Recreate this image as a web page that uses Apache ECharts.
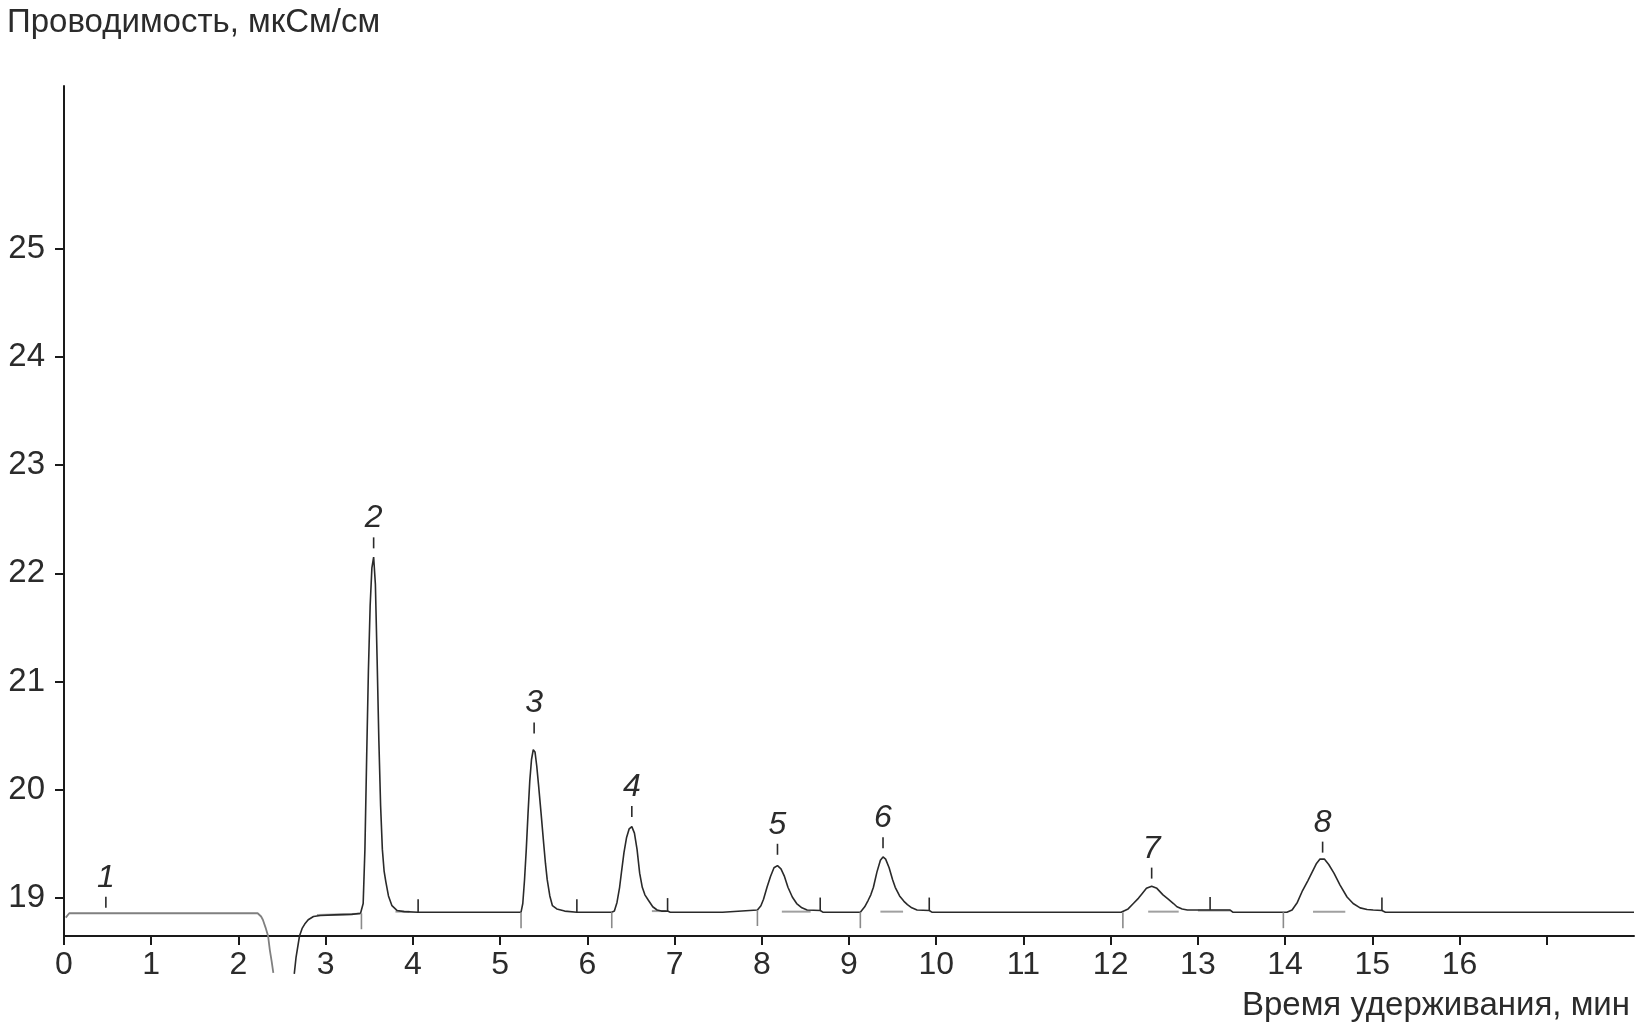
<!DOCTYPE html>
<html>
<head>
<meta charset="utf-8">
<title>Хроматограмма</title>
<script src="https://cdn.jsdelivr.net/npm/echarts@6/dist/echarts.min.js"></script>
<style>
  html, body { margin: 0; padding: 0; background: #fff; }
  #chart { width: 1642px; height: 1028px; }
</style>
</head>
<body>
<div id="chart"></div>
<script>
// ticks
const xTicks = [0, 1, 2, 3, 4, 5, 6, 7, 8, 9, 10, 11, 12, 13, 14, 15, 16, 17];
const xTickLabels = [0, 1, 2, 3, 4, 5, 6, 7, 8, 9, 10, 11, 12, 13, 14, 15, 16];
const yTicks = [19, 20, 21, 22, 23, 24, 25];

// signal before the system dip (t, мкСм/см)
const traceBeforeDip = [
  [0.02, 18.82], [0.06, 18.86], [0.5, 18.86], [1.0, 18.86], [1.5, 18.86],
  [2.0, 18.86], [2.22, 18.86], [2.26, 18.83], [2.28, 18.8], [2.31, 18.73],
  [2.34, 18.65], [2.36, 18.52], [2.38, 18.42], [2.40, 18.31]
];

// signal after the dip, with peaks 2..8
const traceAfterDip = [
  [2.64, 18.30], [2.66, 18.45], [2.70, 18.65], [2.73, 18.72], [2.76, 18.76],
  [2.80, 18.80], [2.86, 18.83], [2.94, 18.84], [3.1, 18.845], [3.3, 18.85],
  [3.40, 18.86],
  // peak 2
  [3.43, 18.95], [3.45, 19.45], [3.47, 20.3], [3.49, 21.1], [3.51, 21.7],
  [3.53, 22.05], [3.55, 22.15], [3.57, 21.9], [3.59, 21.2], [3.61, 20.45],
  [3.63, 19.85], [3.65, 19.45], [3.67, 19.25], [3.69, 19.15], [3.72, 19.02],
  [3.76, 18.93], [3.82, 18.885], [3.9, 18.875], [4.06, 18.87], [5.0, 18.87],
  // peak 3
  [5.24, 18.87], [5.26, 18.95], [5.28, 19.17], [5.30, 19.45], [5.32, 19.78],
  [5.34, 20.08], [5.36, 20.28], [5.38, 20.37], [5.40, 20.35], [5.42, 20.22],
  [5.44, 20.05], [5.47, 19.78], [5.50, 19.5], [5.52, 19.32], [5.54, 19.17],
  [5.57, 19.02], [5.60, 18.93], [5.65, 18.9], [5.74, 18.88], [5.88, 18.87],
  // peak 4
  [6.28, 18.87], [6.31, 18.88], [6.34, 18.96], [6.37, 19.1], [6.39, 19.23],
  [6.42, 19.42], [6.45, 19.56], [6.48, 19.64], [6.51, 19.66], [6.54, 19.6],
  [6.57, 19.45], [6.60, 19.23], [6.63, 19.1], [6.66, 19.03], [6.70, 18.98],
  [6.75, 18.92], [6.80, 18.89], [6.85, 18.88], [6.92, 18.88], [6.95, 18.87],
  [7.55, 18.87], [7.57, 18.885], [7.95, 18.89],
  // peak 5
  [7.96, 18.89], [7.99, 18.93], [8.02, 18.99], [8.06, 19.10], [8.10, 19.2],
  [8.14, 19.28], [8.18, 19.30], [8.22, 19.27], [8.26, 19.2], [8.30, 19.10],
  [8.35, 19.01], [8.40, 18.95], [8.46, 18.91], [8.52, 18.89], [8.67, 18.885],
  [8.70, 18.87], [9.13, 18.87],
  // peak 6
  [9.15, 18.87], [9.18, 18.92], [9.22, 18.98], [9.25, 19.03], [9.28, 19.10],
  [9.32, 19.24], [9.36, 19.35], [9.39, 19.38], [9.42, 19.36], [9.46, 19.28],
  [9.50, 19.17], [9.53, 19.10], [9.58, 19.02], [9.63, 18.97], [9.67, 18.94],
  [9.72, 18.91], [9.78, 18.89], [9.92, 18.885], [9.95, 18.87], [12.12, 18.87],
  // peak 7
  [12.14, 18.87], [12.2, 18.9], [12.26, 18.95], [12.32, 19.0], [12.36, 19.04],
  [12.41, 19.09], [12.47, 19.11], [12.53, 19.09], [12.60, 19.03], [12.66, 18.99],
  [12.72, 18.95], [12.76, 18.92], [12.82, 18.9], [12.88, 18.89], [13.37, 18.89],
  [13.40, 18.87], [13.98, 18.87],
  // peak 8
  [14.02, 18.87], [14.08, 18.89], [14.14, 18.96], [14.20, 19.07], [14.26, 19.16],
  [14.31, 19.24], [14.36, 19.32], [14.40, 19.36], [14.45, 19.36], [14.50, 19.31],
  [14.56, 19.23], [14.63, 19.12], [14.71, 19.01], [14.78, 18.95], [14.86, 18.91],
  [14.94, 18.895], [15.01, 18.89], [15.11, 18.885], [15.15, 18.87], [18.0, 18.87]
];

// integration baselines (grey pieces)
const greyBaselines = [
  [[2.9, 18.845], [3.4, 18.855]],
  [[3.8, 18.875], [3.96, 18.875]],
  [[6.74, 18.88], [6.9, 18.88]],
  [[8.23, 18.875], [8.56, 18.875]],
  [[9.36, 18.875], [9.62, 18.875]],
  [[12.43, 18.875], [12.78, 18.875]],
  [[13.0, 18.885], [13.37, 18.885]],
  [[14.32, 18.875], [14.69, 18.875]]
];

// peak numbering: time, value under the dash
const peakNames = ['1', '2', '3', '4', '5', '6', '7', '8'];
const peakTimes = [0.48, 3.55, 5.39, 6.51, 8.18, 9.39, 12.47, 14.43];
const peakMarkValues = [18.91, 22.23, 20.52, 19.75, 19.40, 19.46, 19.18, 19.42];

// peak start / end events
const peakStartTimes = [3.41, 5.24, 6.28, 7.95, 9.13, 12.14, 13.98];
const peakStartValues = [18.86, 18.87, 18.87, 18.89, 18.87, 18.87, 18.87];
const peakEndTimes = [4.06, 5.88, 6.92, 8.67, 9.92, 13.14, 15.11];
const peakEndValues = [18.87, 18.87, 18.88, 18.885, 18.885, 18.89, 18.885];

const chart = echarts.init(document.getElementById('chart'));

const textColor = '#2b2b2b';
const fontFamily = '"Liberation Sans", Arial, sans-serif';

function eventMarks(times, values, dir, len, color) {
  return {
    type: 'custom',
    data: times.map((t, i) => [t, values[i]]),
    renderItem: (params, api) => {
      const p = api.coord([api.value(0), api.value(1)]);
      return {
        type: 'line',
        shape: { x1: p[0], y1: p[1], x2: p[0], y2: p[1] + dir * len },
        style: { stroke: color, lineWidth: 1.6 },
      };
    },
    z: 4,
  };
}

const option = {
  animation: false,
  backgroundColor: '#fff',
  title: [
    {
      text: 'Проводимость, мкСм/см',
      left: 2,
      top: 1,
      textStyle: { fontSize: 33, fontWeight: 'normal', color: textColor, fontFamily },
    },
    {
      text: 'Время удерживания, мин',
      right: 7,
      top: 984,
      textStyle: { fontSize: 33, fontWeight: 'normal', color: textColor, fontFamily },
    },
  ],
  grid: {
    left: 64,
    right: 8,
    top: 86,
    bottom: 92,
    outerBoundsMode: 'none',
  },
  xAxis: {
    type: 'value',
    min: 0,
    max: 18,
    interval: 1,
    axisLine: { show: true, lineStyle: { color: '#1a1a1a', width: 2 } },
    axisTick: { show: true, length: 9, customValues: xTicks, lineStyle: { color: '#1a1a1a', width: 2 } },
    axisLabel: {
      customValues: xTickLabels,
      margin: 13,
      fontSize: 32,
      color: textColor,
      fontFamily,
    },
    splitLine: { show: false },
  },
  yAxis: {
    type: 'value',
    min: 18.65,
    max: 26.5,
    axisLine: { show: true, lineStyle: { color: '#1a1a1a', width: 2 } },
    axisTick: { show: true, length: 9, customValues: yTicks, lineStyle: { color: '#1a1a1a', width: 2 } },
    axisLabel: {
      customValues: yTicks,
      margin: 19,
      fontSize: 33,
      color: textColor,
      fontFamily,
    },
    splitLine: { show: false },
  },
  series: [
    {
      type: 'line',
      data: traceBeforeDip,
      showSymbol: false,
      clip: false,
      lineStyle: { color: '#808080', width: 1.8 },
      z: 3,
    },
    {
      type: 'line',
      data: traceAfterDip,
      showSymbol: false,
      clip: false,
      lineStyle: { color: '#2a2a2a', width: 1.6 },
      z: 3,
    },
    ...greyBaselines.map((seg) => ({
      type: 'line',
      data: seg,
      showSymbol: false,
      lineStyle: { color: '#a0a0a0', width: 2 },
      z: 2,
    })),
    eventMarks(peakStartTimes, peakStartValues, 1, 16, '#8a8a8a'),
    eventMarks(peakEndTimes, peakEndValues, -1, 13, '#2a2a2a'),
    {
      type: 'custom',
      data: peakTimes.map((t, i) => [t, peakMarkValues[i]]),
      renderItem: (params, api) => {
        const p = api.coord([api.value(0), api.value(1)]);
        return {
          type: 'group',
          children: [
            {
              type: 'line',
              shape: { x1: p[0], y1: p[1] - 11, x2: p[0], y2: p[1] },
              style: { stroke: '#2a2a2a', lineWidth: 1.6 },
            },
            {
              type: 'text',
              x: p[0],
              y: p[1] - 30,
              style: {
                text: peakNames[params.dataIndex],
                fontSize: 32,
                fontStyle: 'italic',
                fontFamily,
                fill: textColor,
                align: 'center',
                verticalAlign: 'middle',
              },
            },
          ],
        };
      },
      z: 5,
    },
  ],
};

chart.setOption(option);
</script>
</body>
</html>
